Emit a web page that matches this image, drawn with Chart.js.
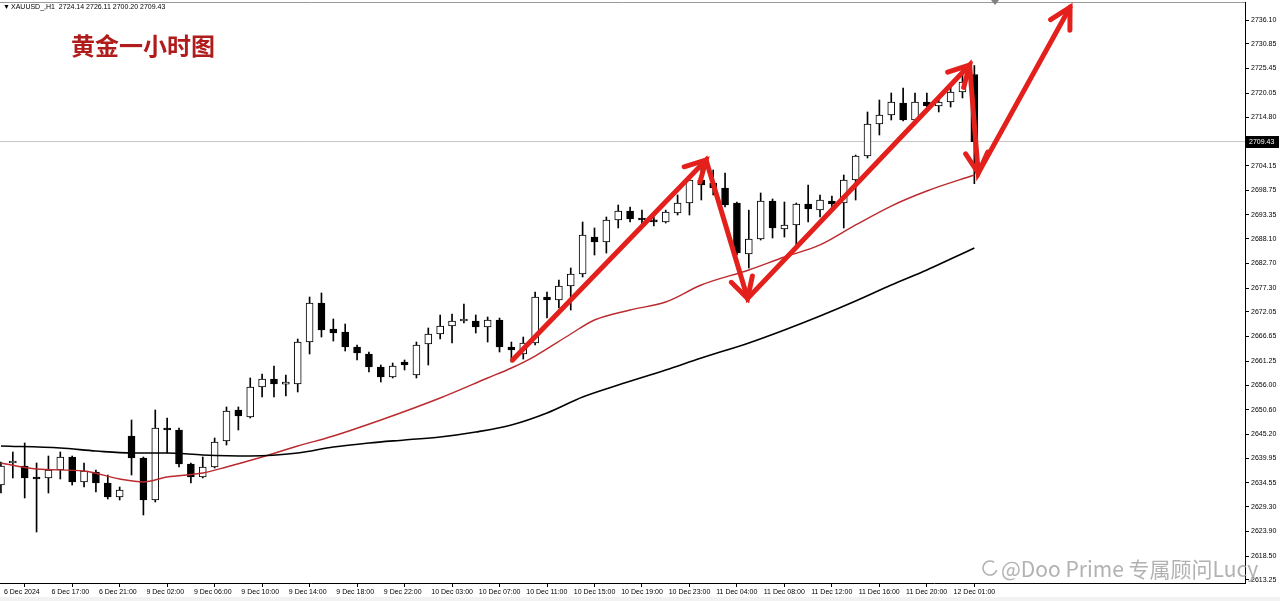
<!DOCTYPE html>
<html>
<head>
<meta charset="utf-8">
<script src="https://cdn.jsdelivr.net/npm/chart.js@4.4.1/dist/chart.umd.min.js"></script>
<style>
  html, body { margin: 0; padding: 0; background: #fff; overflow: hidden; }
  #wrap { width: 1280px; height: 601px; }
</style>
</head>
<body>
<div id="wrap"><canvas id="goldChart" width="1280" height="601"></canvas></div>
<script>
// XAUUSD H1, one entry per candle (index 0 = first visible bar)
const OPEN = [2634.08,2638.91,2638.25,2635.62,2635.62,2637.37,2640.22,2634.74,2636.93,2634.52,
  2631.45,2644.83,2640.00,2630.79,2646.59,2646.15,2638.69,2635.84,2638.03,2643.73,
  2650.54,2649.00,2655.58,2657.34,2656.20,2656.24,2665.45,2674.01,2668.31,2667.65,
  2664.36,2662.82,2659.97,2657.78,2661.07,2658.22,2665.02,2667.21,2668.96,2670.06,
  2670.06,2668.75,2670.28,2664.36,2662.82,2665.24,2675.33,2674.67,2677.74,2680.37,
  2688.49,2687.39,2692.22,2694.20,2692.44,2692.00,2691.78,2693.76,2695.95,2701.00,
  2700.34,2699.24,2695.95,2684.76,2688.05,2696.39,2690.25,2691.13,2695.73,2694.41,
  2696.39,2695.95,2701.00,2706.26,2713.28,2715.26,2717.89,2714.16,2718.11,2717.23,
  2718.11,2720.31,2724.14];
const HIGH = [2639.13,2641.32,2643.30,2638.91,2640.44,2641.32,2640.44,2638.91,2637.37,2636.27,
  2633.64,2648.34,2640.22,2650.54,2648.78,2646.59,2638.91,2640.22,2644.39,2651.20,
  2651.20,2657.56,2658.44,2660.19,2658.22,2666.11,2675.33,2676.21,2670.50,2669.40,
  2664.80,2663.26,2660.41,2660.85,2661.51,2665.45,2668.53,2671.38,2671.60,2673.79,
  2671.38,2670.94,2670.72,2665.45,2666.55,2676.42,2676.42,2679.06,2681.69,2691.78,
  2690.47,2692.88,2695.51,2695.07,2694.38,2692.88,2694.38,2697.71,2701.66,2703.63,
  2703.19,2702.53,2696.17,2694.38,2698.15,2696.83,2696.17,2695.95,2699.90,2697.71,
  2697.49,2702.09,2706.48,2715.92,2718.55,2720.09,2721.18,2720.09,2720.09,2719.21,
  2721.40,2724.03,2726.11];
const LOW = [2632.33,2635.62,2631.23,2623.77,2632.33,2635.40,2634.08,2633.64,2632.55,2631.01,
  2630.79,2636.27,2627.50,2630.35,2641.10,2638.03,2634.52,2635.62,2637.81,2642.86,
  2646.15,2648.78,2653.39,2653.39,2653.61,2654.49,2662.82,2666.55,2665.67,2663.48,
  2661.51,2658.87,2656.68,2657.56,2659.31,2657.56,2660.41,2666.11,2665.24,2669.62,
  2667.43,2665.45,2663.26,2661.07,2661.72,2664.80,2670.72,2672.91,2672.47,2679.72,
  2684.54,2684.98,2690.47,2691.78,2691.13,2690.91,2691.56,2693.32,2693.32,2696.61,
  2697.71,2695.07,2684.54,2681.69,2687.83,2688.27,2688.49,2686.74,2691.78,2692.88,
  2695.07,2690.47,2696.61,2705.82,2710.87,2714.16,2713.94,2713.94,2717.01,2715.92,
  2717.01,2718.99,2700.20];
const CLOSE = [2638.25,2639.35,2635.62,2635.40,2637.37,2640.22,2634.74,2637.15,2634.52,2631.45,
  2632.99,2640.00,2630.79,2646.59,2646.15,2638.69,2635.84,2638.03,2643.52,2650.32,
  2649.22,2655.58,2657.34,2656.24,2656.30,2665.45,2674.01,2668.09,2667.43,2664.36,
  2663.04,2659.97,2657.78,2660.19,2660.41,2664.80,2667.21,2668.96,2670.06,2670.28,
  2668.75,2670.28,2664.36,2663.70,2665.24,2675.33,2674.67,2677.74,2680.37,2688.93,
  2687.39,2692.22,2694.20,2692.44,2692.22,2691.80,2693.98,2695.95,2701.00,2699.90,
  2699.24,2695.51,2684.98,2688.05,2696.39,2690.47,2691.13,2695.73,2694.63,2696.61,
  2695.73,2701.00,2706.26,2713.28,2715.26,2718.11,2714.16,2718.11,2717.23,2718.11,
  2720.31,2722.50,2709.43];

// moving averages, read at a few bar indices
const RED_MA_X = [0,3,7,10,12,14,17,19,22,25,28,32,37,41,43,45,48,50,53,56,59,63,66,69,72,75,78,82];
const RED_MA = [2638.91,2637.59,2637.15,2635.40,2634.74,2635.84,2636.71,2638.03,2640.22,2642.64,
  2644.83,2648.34,2653.17,2657.56,2659.75,2662.38,2667.21,2670.28,2672.47,2674.23,
  2677.96,2681.25,2684.10,2686.74,2691.13,2695.29,2698.58,2702.09];
const BLACK_MA_X = [0,5,8,11,14,17,21,25,28,31,34,37,40,43,46,49,52,56,59,63,66,69,72,75,78,80,82];
const BLACK_MA = [2642.64,2642.20,2641.54,2641.10,2641.10,2640.66,2640.44,2641.10,2642.42,2643.30,
  2643.96,2644.61,2645.71,2647.25,2649.88,2653.39,2656.02,2659.31,2661.94,2665.24,
  2668.09,2671.16,2674.45,2677.96,2681.25,2683.66,2686.08];

// hand-drawn zigzag arrows (bar index, price)
const ARROW_X = [43.1, 59.4, 62.9, 81.6, 82.33, 90.06];
const ARROW_Y = [2661.5, 2705.4, 2675.0, 2726.2, 2702.5, 2738.9];

// axis labels
const X_TICK_IDX = [0,4,8,12,16,20,24,28,32,36,40,44,48,52,56,60,64,68,72,76,80];
const X_LABELS = ['6 Dec 2024','6 Dec 17:00','6 Dec 21:00','9 Dec 02:00','9 Dec 06:00','9 Dec 10:00',
  '9 Dec 14:00','9 Dec 18:00','9 Dec 22:00','10 Dec 03:00','10 Dec 07:00','10 Dec 11:00',
  '10 Dec 15:00','10 Dec 19:00','10 Dec 23:00','11 Dec 04:00','11 Dec 08:00','11 Dec 12:00',
  '11 Dec 16:00','11 Dec 20:00','12 Dec 01:00'];
const Y_TICKS = [2736.10,2730.85,2725.45,2720.05,2714.80,2704.15,2698.75,2693.35,2688.10,2682.70,
  2677.30,2672.05,2666.65,2661.25,2656.00,2650.60,2645.20,2639.95,2634.55,2629.30,
  2623.90,2618.50,2613.25];

const lastIdx = CLOSE.length - 1;
const lastClose = CLOSE[lastIdx];
const idx = CLOSE.map((_, i) => i);
const ARROW_RED = '#e3201b';
const AXIS_FONT = { family: 'Liberation Sans', size: 7 };

const decor = {
  id: 'decor',
  afterDatasetsDraw(chart) {
    // arrow heads at each turning point of the zigzag
    const pts = chart.getDatasetMeta(5).data;
    const ctx = chart.ctx;
    ctx.save();
    ctx.strokeStyle = ARROW_RED;
    ctx.lineWidth = 5;
    ctx.lineCap = 'round';
    for (let i = 1; i < pts.length; i++) {
      const a = pts[i - 1], b = pts[i];
      const ang = Math.atan2(b.y - a.y, b.x - a.x);
      const len = 23, spread = 0.5;
      ctx.beginPath();
      ctx.moveTo(b.x - len * Math.cos(ang - spread), b.y - len * Math.sin(ang - spread));
      ctx.lineTo(b.x, b.y);
      ctx.lineTo(b.x - len * Math.cos(ang + spread), b.y - len * Math.sin(ang + spread));
      ctx.stroke();
    }
    ctx.restore();
  },
  afterDraw(chart) {
    const ctx = chart.ctx;
    const area = chart.chartArea;
    const y = chart.scales.y;
    ctx.save();
    // top frame line
    ctx.strokeStyle = '#9a9a9a';
    ctx.lineWidth = 1;
    ctx.beginPath();
    ctx.moveTo(0, area.top + 0.5);
    ctx.lineTo(area.right, area.top + 0.5);
    ctx.stroke();
    // chart shift marker
    ctx.fillStyle = '#808080';
    ctx.beginPath();
    ctx.moveTo(991, 0); ctx.lineTo(999, 0); ctx.lineTo(995, 5); ctx.closePath();
    ctx.fill();
    // light strip under the time axis
    ctx.fillStyle = '#f2f2f2';
    ctx.fillRect(0, 597, 1280, 4);

    // header line
    ctx.fillStyle = '#000';
    ctx.font = '7px "Liberation Sans"';
    ctx.textBaseline = 'middle';
    ctx.textAlign = 'left';
    ctx.fillText('\u25BC', 3, 7);
    ctx.fillText('XAUUSD_,H1  ' + [OPEN[lastIdx], HIGH[lastIdx], LOW[lastIdx], lastClose]
      .map(v => v.toFixed(2)).join(' '), 11, 7);

    // title
    ctx.fillStyle = '#b01c1c';
    ctx.font = 'bold 24px "Noto Sans CJK SC"';
    ctx.fillText('黄金一小时图', 71, 46);

    // current price tag
    const py = Math.round(y.getPixelForValue(lastClose));
    ctx.fillStyle = '#000';
    ctx.fillRect(area.right + 1, py - 6, 33, 12);
    ctx.fillStyle = '#fff';
    ctx.font = '7px "Liberation Sans"';
    ctx.fillText(lastClose.toFixed(2), area.right + 4, py);

    // watermark
    ctx.fillStyle = 'rgba(165,165,165,0.85)';
    ctx.font = '21px "Noto Sans CJK SC"';
    ctx.textBaseline = 'alphabetic';
    ctx.fillText('@Doo Prime 专属顾问Lucy', 1001, 577);
    ctx.strokeStyle = 'rgba(165,165,165,0.85)';
    ctx.lineWidth = 1.6;
    ctx.beginPath();
    ctx.arc(990, 568, 7, 0.3, Math.PI * 1.7);
    ctx.stroke();
    ctx.restore();
  }
};

new Chart(document.getElementById('goldChart'), {
  type: 'bar',
  data: {
    datasets: [
      { // candle bodies
        type: 'bar',
        data: idx.map(i => ({ x: i, y: [OPEN[i], CLOSE[i]] })),
        backgroundColor: idx.map(i => CLOSE[i] >= OPEN[i] ? '#ffffff' : '#000000'),
        borderColor: '#000',
        borderWidth: 1,
        borderSkipped: false,
        barThickness: 7,
        minBarLength: 2,
        grouped: false,
        order: 3
      },
      { // wicks
        type: 'bar',
        data: idx.map(i => ({ x: i, y: [LOW[i], HIGH[i]] })),
        backgroundColor: '#000',
        barThickness: 1,
        grouped: false,
        order: 4
      },
      { // current price line
        type: 'line',
        data: [{ x: -1, y: lastClose }, { x: 110, y: lastClose }],
        borderColor: '#c4c4c4',
        borderWidth: 1,
        pointRadius: 0,
        order: 5
      },
      {
        type: 'line',
        data: RED_MA_X.map((x, i) => ({ x, y: RED_MA[i] })),
        borderColor: '#bb2a2e',
        borderWidth: 1.4,
        pointRadius: 0,
        cubicInterpolationMode: 'monotone',
        order: 2
      },
      {
        type: 'line',
        data: BLACK_MA_X.map((x, i) => ({ x, y: BLACK_MA[i] })),
        borderColor: '#000',
        borderWidth: 1.6,
        pointRadius: 0,
        cubicInterpolationMode: 'monotone',
        order: 1
      },
      { // zigzag arrows
        type: 'line',
        data: ARROW_X.map((x, i) => ({ x, y: ARROW_Y[i] })),
        borderColor: ARROW_RED,
        borderWidth: 5,
        borderCapStyle: 'round',
        borderJoinStyle: 'miter',
        pointRadius: 0,
        tension: 0,
        clip: false,
        order: 0
      }
    ]
  },
  options: {
    responsive: false,
    animation: false,
    devicePixelRatio: 1,
    layout: { padding: { top: 2, left: 0, right: 0, bottom: 0 } },
    plugins: {
      legend: { display: false },
      tooltip: { enabled: false }
    },
    scales: {
      x: {
        type: 'linear',
        position: 'bottom',
        min: -0.08,
        max: 104.8,
        offset: false,
        grid: { drawOnChartArea: false, drawTicks: true, tickLength: 4, color: '#000' },
        border: { display: true, color: '#000' },
        ticks: {
          autoSkip: false,
          maxRotation: 0,
          align: 'start',
          labelOffset: 3,
          padding: 1,
          color: '#000',
          font: AXIS_FONT,
          callback: v => X_LABELS[X_TICK_IDX.indexOf(v)]
        },
        afterBuildTicks: s => { s.ticks = X_TICK_IDX.map(v => ({ value: v })); },
        afterFit: s => { s.height = 18; s.paddingLeft = 0; s.paddingRight = 0; }
      },
      y: {
        type: 'linear',
        position: 'right',
        min: 2612.58,
        max: 2740.05,
        grid: { drawOnChartArea: false, drawTicks: true, tickLength: 4, color: '#000' },
        border: { display: true, color: '#000' },
        ticks: {
          crossAlign: 'near',
          padding: 2,
          color: '#000',
          font: AXIS_FONT,
          callback: v => v.toFixed(2)
        },
        afterBuildTicks: s => { s.ticks = Y_TICKS.map(v => ({ value: v })); },
        afterFit: s => { s.width = 35; s.paddingTop = 0; s.paddingBottom = 0; }
      }
    }
  },
  plugins: [decor]
});
</script>
</body>
</html>
